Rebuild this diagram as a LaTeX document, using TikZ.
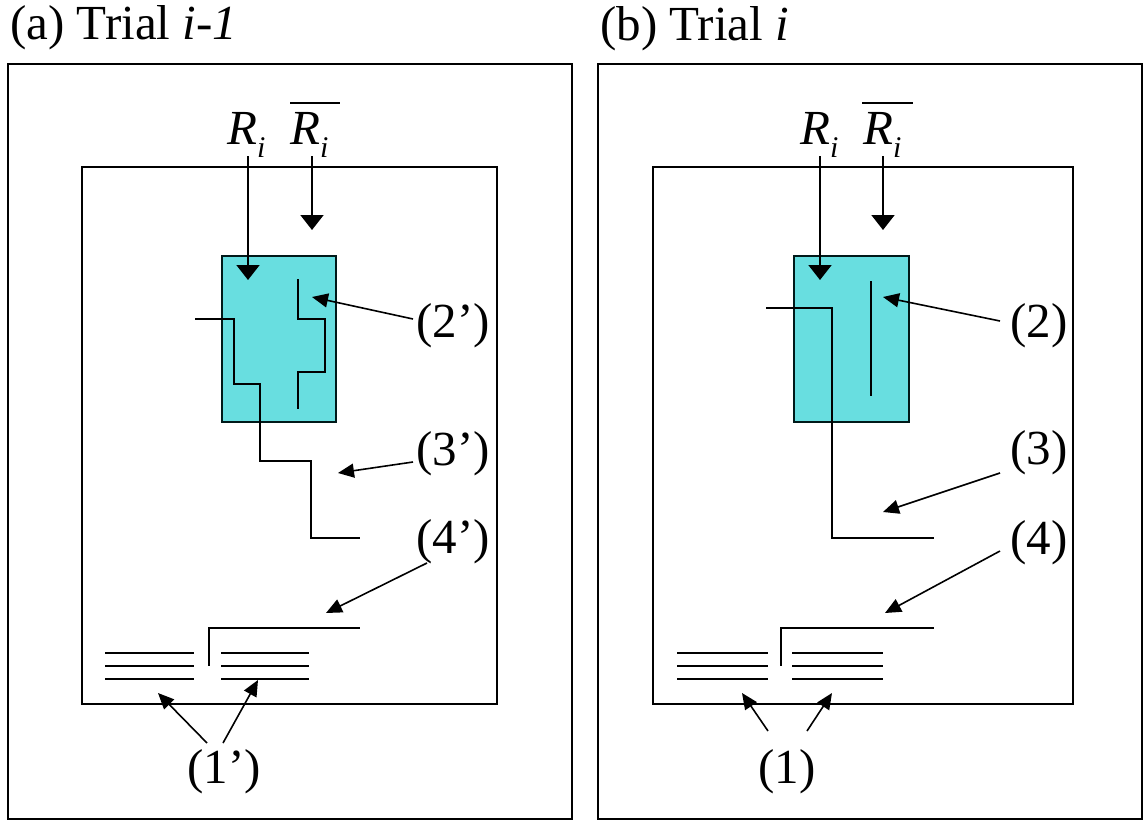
\documentclass[tikz,border=0pt]{standalone}
\usepackage{fontspec}
\setmainfont{Liberation Serif}
\usetikzlibrary{arrows.meta}
\definecolor{cyanfill}{RGB}{104,222,224}
\newcommand\Rlab{\textit{R}\raisebox{-0.28em}{\fontsize{30bp}{30bp}\selectfont\textit{i}}}
\tikzset{
  ln/.style={line width=1.9bp, line cap=rect},
  box/.style={line width=2bp},
  gate/.style={draw=black!80!teal, line width=1.8bp, fill=cyanfill},
  bigarr/.style={line width=1.9bp, -{Triangle[width=23bp,length=15bp]}},
  smarr/.style={line width=1.6bp, -{Triangle[width=14bp,length=16bp]}},
  lab/.style={inner sep=0pt, anchor=base west, font=\fontsize{49bp}{58bp}\selectfont},
}
\begin{document}
\begin{tikzpicture}[x=1bp,y=-1bp]
\useasboundingbox (0,0) rectangle (1144,821);
% titles
\node[lab] (ta) at (10,40) {(a) Trial \textit{i-1}};
\node[lab] (tb) at (600,41) {(b) Trial \textit{i}};
% outer boxes
\draw[box] (8,64) rectangle (572,819);
\draw[box] (598,64) rectangle (1142,819);
% inner boxes
\draw[box] (82,167) rectangle (497,704);
\draw[box] (653,167) rectangle (1073,704);
% ---------- panel a ----------
\node[gate, minimum width=114bp, minimum height=166bp, inner sep=0pt] (ga) at (279,339) {};
\node[lab] (ra) at (227,144) {\Rlab};
\node[lab] (rba) at (290,144) {\Rlab};
\draw[line width=1.8bp] (290,103) -- (340,103);
\coordinate (ra1) at (248,156); \coordinate (ra2) at (248,280);
\coordinate (rba1) at (312,156); \coordinate (rba2) at (312,230);
\draw[bigarr] (ra1) -- (ra2);
\draw[bigarr] (rba1) -- (rba2);
\draw[ln] (196,319) -| (234,384) -| (260,461) -| (311,538) -- (359,538);
\draw[ln] (298,280) |- (325,319) |- (298,372) -- (298,408);
\draw[ln] (209,665) |- (359,628);
\foreach \y in {653,666,679}{
  \draw[ln] (106,\y) -- (193,\y);
  \draw[ln] (222,\y) -- (308,\y);
}
\node[lab] (l2a) at (416,337) {(2’)};
\node[lab] (l3a) at (416,465) {(3’)};
\node[lab] (l4a) at (416,553) {(4’)};
\node[lab] (l1a) at (187,783) {(1’)};
\coordinate (a2s) at (413,319); \coordinate (a2t) at (312,297);
\coordinate (a3s) at (413,462); \coordinate (a3t) at (338,473);
\coordinate (a4s) at (427,563); \coordinate (a4t) at (326,613);
\coordinate (a1s) at (207,743); \coordinate (a1t) at (158,693);
\coordinate (a1u) at (223,743); \coordinate (a1v) at (258,680);
\draw[smarr] (a2s) -- (a2t);
\draw[smarr] (a3s) -- (a3t);
\draw[smarr] (a4s) -- (a4t);
\draw[smarr] (a1s) -- (a1t);
\draw[smarr] (a1u) -- (a1v);
% ---------- panel b ----------
\node[gate, minimum width=115bp, minimum height=166bp, inner sep=0pt] (gb) at (851.5,339) {};
\node[lab] (rb) at (800,144) {\Rlab};
\node[lab] (rbb) at (863,144) {\Rlab};
\draw[line width=1.8bp] (862,103) -- (913,103);
\coordinate (rb1) at (820,156); \coordinate (rb2) at (820,280);
\coordinate (rbb1) at (883,156); \coordinate (rbb2) at (883,230);
\draw[bigarr] (rb1) -- (rb2);
\draw[bigarr] (rbb1) -- (rbb2);
\draw[ln] (767,308) -| (832,538) -- (933,538);
\draw[ln] (871,282) -- (871,395);
\draw[ln] (781,665) |- (933,628);
\foreach \y in {653,666,679}{
  \draw[ln] (678,\y) -- (767,\y);
  \draw[ln] (793,\y) -- (882,\y);
}
\node[lab] (l2b) at (1010,337) {(2)};
\node[lab] (l3b) at (1010,464) {(3)};
\node[lab] (l4b) at (1010,554) {(4)};
\node[lab] (l1b) at (758,783) {(1)};
\coordinate (b2s) at (1000,321); \coordinate (b2t) at (883,297);
\coordinate (b3s) at (1000,473); \coordinate (b3t) at (883,512);
\coordinate (b4s) at (1000,551); \coordinate (b4t) at (885,613);
\coordinate (b1s) at (768,731); \coordinate (b1t) at (742,693);
\coordinate (b1u) at (807,731); \coordinate (b1v) at (832,693);
\draw[smarr] (b2s) -- (b2t);
\draw[smarr] (b3s) -- (b3t);
\draw[smarr] (b4s) -- (b4t);
\draw[smarr] (b1s) -- (b1t);
\draw[smarr] (b1u) -- (b1v);
\end{tikzpicture}
\end{document}
